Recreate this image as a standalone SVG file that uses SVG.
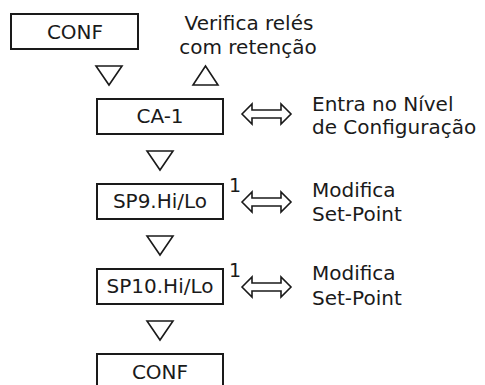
<svg xmlns="http://www.w3.org/2000/svg" width="485" height="385" viewBox="0 0 485 385">
  <style>
    .box { fill: #fff; stroke: #1a1a1a; stroke-width: 2; }
    .tri { fill: #fff; stroke: #1a1a1a; stroke-width: 1.6; stroke-linejoin: miter; }
    .dbl { fill: #fff; stroke: #1a1a1a; stroke-width: 1.6; stroke-linejoin: miter; }
    text { font-family: "DejaVu Sans", "Liberation Sans", sans-serif; font-size: 20px; fill: #1a1a1a; }
    .c { text-anchor: middle; }
    .sup { font-size: 19px; }
  </style>
  <defs>
    <path id="down" d="M -13 0 L 13 0 L 0 19 Z"/>
    <path id="up" d="M -12.5 19 L 12.5 19 L 0 0 Z"/>
    <path id="both" d="M 0 0 L 10 -10 L 10 -4 L 39 -4 L 39 -10 L 49 0 L 39 10 L 39 4 L 10 4 L 10 10 Z"/>
  </defs>

  <!-- flow steps -->
  <g id="conf-start">
    <rect class="box" x="11" y="14" width="127" height="35"/>
    <text class="c" x="75" y="39">CONF</text>
  </g>
  <g id="note-retention">
    <text class="c" x="249" y="30">Verifica relés</text>
    <text class="c" x="248" y="54">com retenção</text>
  </g>
  <g id="ca-1">
    <rect class="box" x="97" y="99" width="126" height="35"/>
    <text class="c" x="160" y="123">CA-1</text>
  </g>
  <g id="note-ca-1">
    <text x="312" y="111">Entra no Nível</text>
    <text x="312" y="134">de Configuração</text>
  </g>
  <g id="sp9">
    <rect class="box" x="97" y="184" width="126" height="35"/>
    <text class="c" x="160" y="208">SP9.Hi/Lo</text>
    <text class="sup c" x="235" y="192">1</text>
  </g>
  <g id="note-sp9">
    <text x="312" y="197">Modifica</text>
    <text x="312" y="221">Set-Point</text>
  </g>
  <g id="sp10">
    <rect class="box" x="97" y="269" width="126" height="35"/>
    <text class="c" x="160" y="293">SP10.Hi/Lo</text>
    <text class="sup c" x="235" y="277">1</text>
  </g>
  <g id="note-sp10">
    <text x="312" y="280">Modifica</text>
    <text x="312" y="305">Set-Point</text>
  </g>
  <g id="conf-end">
    <rect class="box" x="97" y="354" width="126" height="40"/>
    <text class="c" x="160" y="379">CONF</text>
  </g>

  <!-- step markers and key arrows -->
  <g id="connectors">
    <use href="#down" class="tri" x="109" y="66"/>
    <use href="#up" class="tri" x="205.5" y="66"/>
    <use href="#down" class="tri" x="160" y="151"/>
    <use href="#down" class="tri" x="160" y="236"/>
    <use href="#down" class="tri" x="160" y="321"/>
    <use href="#both" class="dbl" x="242" y="114"/>
    <use href="#both" class="dbl" x="242" y="202"/>
    <use href="#both" class="dbl" x="242" y="287"/>
  </g>
</svg>
